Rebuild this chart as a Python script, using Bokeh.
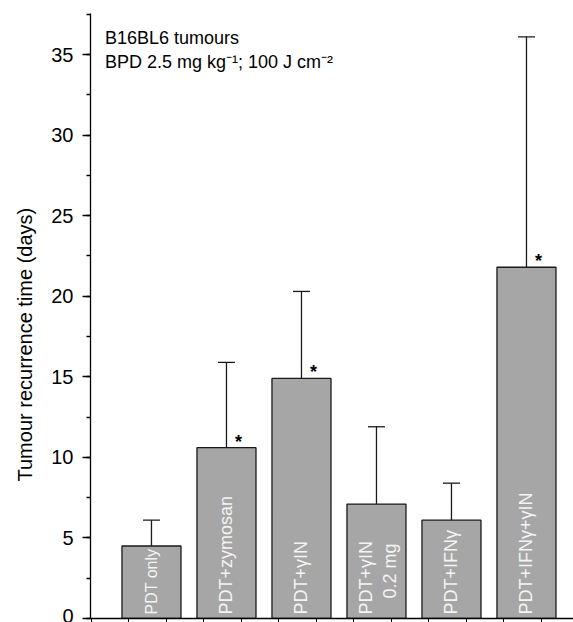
import math
from bokeh.plotting import figure
from bokeh.models import (Range1d, FixedTicker, SingleIntervalTicker, Whisker,
                          TeeHead, ColumnDataSource, Label, Title)
from bokeh.core.properties import value
from bokeh.embed import file_html
from bokeh.resources import INLINE

# ---- data ----
labels_line1 = ["PDT only", "PDT+zymosan", "PDT+\u03b3IN", "PDT+\u03b3IN", "PDT+IFN\u03b3", "PDT+IFN\u03b3+\u03b3IN"]
labels_line2 = ["", "", "", "0.2 mg", "", ""]
mean_days = [4.5, 10.6, 14.9, 7.1, 6.1, 21.8]
sd_days = [1.6, 5.3, 5.4, 4.8, 2.3, 14.3]
significant = [False, True, True, False, False, True]

# ---- styles ----
FONT = "Liberation Sans"
EDGE = "#1a1a1a"
label_sizes = ["16px", "18px", "18px", "18px", "18px", "18px"]

n = len(mean_days)
xs = list(range(1, n + 1))
upper = [m + s for m, s in zip(mean_days, sd_days)]
line1_off = [-10 if l2 else 0 for l2 in labels_line2]
star_text = ["*" if s else "" for s in significant]

src = ColumnDataSource(dict(x=xs, mean=mean_days, upper=upper, l1=labels_line1,
                            l2=labels_line2, l1off=line1_off, star=star_text,
                            zero=[0] * n, fs=label_sizes))

p = figure(width=573, height=622, x_range=Range1d(0.187, 6.627), y_range=Range1d(0, 37.55),
           output_backend="svg", toolbar_location=None,
           min_border_left=90, min_border_right=0, min_border_top=13, min_border_bottom=0)
p.outline_line_color = None
p.xgrid.visible = False
p.ygrid.visible = False
p.background_fill_color = "white"
p.border_fill_color = "white"

p.vbar(x="x", top="mean", width=0.787, source=src, fill_color="#a6a6a6",
       line_color=EDGE, line_width=1.3)

w = Whisker(base="x", upper="upper", lower="mean", source=src,
            upper_head=TeeHead(size=17, line_width=1.3, line_color=EDGE),
            lower_head=None, line_width=1.3, line_color=EDGE)
p.add_layout(w)

# bar labels (rotated, white)
p.text(x="x", y="zero", text="l1", source=src, angle=math.pi / 2, x_offset="l1off", y_offset=-4,
       text_align="left", text_baseline="middle", text_color="#f4f4f4",
       text_font=value(FONT), text_font_size="fs")
p.text(x="x", y="zero", text="l2", source=src, angle=math.pi / 2, x_offset=14, y_offset=-20,
       text_align="left", text_baseline="middle", text_color="#f4f4f4",
       text_font=value(FONT), text_font_size="18px")

# significance stars
p.text(x="x", y="mean", text="star", source=src, x_offset=12, y_offset=-6,
       text_align="center", text_baseline="middle", text_color="black",
       text_font=value(FONT), text_font_size="18px", text_font_style="bold")

# axes
ya = p.yaxis[0]
ya.ticker = SingleIntervalTicker(interval=5, num_minor_ticks=2)
ya.major_tick_out = 8
ya.major_tick_in = 0
ya.minor_tick_out = 4
ya.minor_tick_in = 0
ya.axis_line_width = 1.3
ya.major_tick_line_width = 1.3
ya.minor_tick_line_width = 1.3
ya.axis_line_color = "black"
ya.major_label_standoff = 9
ya.major_label_text_font = FONT
ya.major_label_text_font_size = "20px"
ya.major_label_text_color = "black"

xa = p.xaxis[0]
xticks = [0.2 + 0.5 * k for k in range(13)]
xa.ticker = FixedTicker(ticks=xticks)
xa.major_tick_out = 4
xa.major_tick_in = 0
xa.minor_tick_out = 0
xa.minor_tick_in = 0
xa.axis_line_width = 1.3
xa.major_tick_line_width = 1.0
xa.axis_line_color = "black"
xa.major_label_standoff = 0
xa.major_label_overrides = {t: "" for t in xticks}

ylab = Title(text="Tumour recurrence time (days)", align="left", offset=137,
             vertical_align="top",
             text_font=FONT, text_font_size="20px", text_font_style="normal",
             text_color="black", standoff=22)
p.add_layout(ylab, "left")

p.add_layout(Label(x=0.38, y=36.03, text="B16BL6 tumours", text_align="left",
                   text_baseline="alphabetic", text_font=FONT, text_font_size="18px",
                   text_color="black"))
p.add_layout(Label(x=0.38, y=34.53, text="BPD 2.5 mg kg\u207b\u00b9; 100 J cm\u207b\u00b2",
                   text_align="left", text_baseline="alphabetic", text_font=FONT,
                   text_font_size="18px", text_color="black"))

open("out.html", "w").write(file_html(p, INLINE))
